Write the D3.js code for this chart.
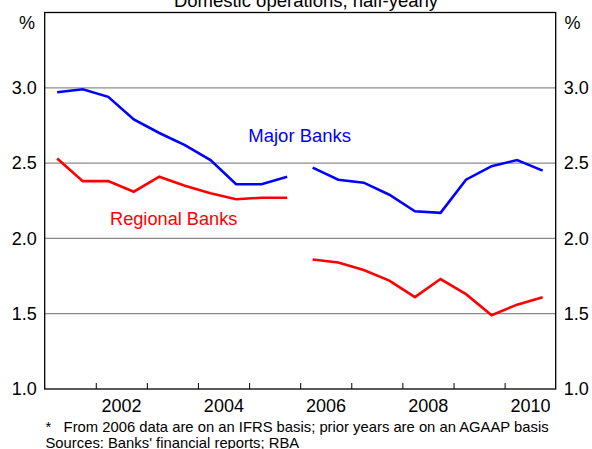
<!DOCTYPE html>
<html>
<head>
<meta charset="utf-8">
<script src="https://cdn.jsdelivr.net/npm/d3@7"></script>
<style>
  html, body { margin: 0; padding: 0; background: #fff; }
  svg { display: block; font-family: "Liberation Sans", Arial, sans-serif; }
</style>
</head>
<body>
<svg id="chart" width="592" height="449"></svg>
<script>
// ---- data ----
const title = "Domestic operations, half-yearly";
const periods1 = ["2001-03","2001-09","2002-03","2002-09","2003-03","2003-09","2004-03","2004-09","2005-03","2005-09"];
const periods2 = ["2006-03","2006-09","2007-03","2007-09","2008-03","2008-09","2009-03","2009-09","2010-03","2010-09"];
const major1    = [2.97, 2.99, 2.94, 2.79, 2.70, 2.62, 2.52, 2.36, 2.36, 2.41];
const regional1 = [2.53, 2.38, 2.38, 2.31, 2.41, 2.35, 2.30, 2.26, 2.27, 2.27];
const major2    = [2.47, 2.39, 2.37, 2.29, 2.18, 2.17, 2.39, 2.48, 2.52, 2.45];
const regional2 = [1.86, 1.84, 1.79, 1.72, 1.61, 1.73, 1.63, 1.49, 1.56, 1.61];
const yTicks = [1.0, 1.5, 2.0, 2.5, 3.0];
const yearTicks = [2002, 2003, 2004, 2005, 2006, 2007, 2008, 2009, 2010];
const yearLabels = [2002, 2004, 2006, 2008, 2010];
const seriesNames = ["Major Banks", "Regional Banks"];
const footnotes = ["*   From 2006 data are on an IFRS basis; prior years are on an AGAAP basis",
                   "Sources: Banks' financial reports; RBA"];

// ---- layout ----
const L = 44.7, R = 555.7, T = 12.5, B = 389;
const svg = d3.select("#chart");
const toDate = p => new Date(+p.slice(0,4), +p.slice(5,7), 0); // end of month

const x = d3.scaleTime().domain([new Date(2001,0,1), new Date(2011,0,1)]).range([L, R]);
const y = d3.scaleLinear().domain([1.0, 3.5]).range([B, T]);

// gridlines
svg.append("g").selectAll("line").data(yTicks.filter(v => v > 1.0)).join("line")
  .attr("x1", L).attr("x2", R)
  .attr("y1", d => y(d)).attr("y2", d => y(d))
  .attr("stroke", "#8c8c8c").attr("stroke-width", 1.3);

// frame
svg.append("rect").attr("x", L).attr("y", T).attr("width", R - L).attr("height", B - T)
  .attr("fill", "none").attr("stroke", "#000").attr("stroke-width", 1.3);

// x ticks (inward)
const xTickAxis = d3.axisBottom(x)
  .tickValues(yearTicks.map(yr => new Date(yr, 0, 1)))
  .tickSize(-6).tickFormat("");
const gxt = svg.append("g").attr("transform", `translate(0,${B})`).call(xTickAxis);
gxt.select(".domain").remove();
gxt.selectAll("line").attr("stroke", "#000").attr("stroke-width", 1);

// x labels (mid-year)
const xLabAxis = d3.axisBottom(x)
  .tickValues(yearLabels.map(yr => new Date(yr, 6, 1)))
  .tickSize(0).tickPadding(0).tickFormat(d => d.getFullYear());
const gxl = svg.append("g").attr("transform", `translate(0,${B})`).call(xLabAxis);
gxl.select(".domain").remove();
gxl.selectAll("text").attr("dy", null).attr("y", 23).attr("font-size", 18)
  .attr("font-family", "Liberation Sans, Arial, sans-serif").attr("fill", "#000");

// y axes
const yLeft = d3.axisLeft(y).tickValues(yTicks).tickSize(0).tickPadding(8).tickFormat(d3.format(".1f"));
const gyl = svg.append("g").attr("transform", `translate(${L},0)`).call(yLeft);
gyl.select(".domain").remove();
gyl.selectAll("text").attr("font-size", 18).attr("font-family", "Liberation Sans, Arial, sans-serif").attr("fill", "#000");

const yRight = d3.axisRight(y).tickValues(yTicks).tickSize(0).tickPadding(8).tickFormat(d3.format(".1f"));
const gyr = svg.append("g").attr("transform", `translate(${R},0)`).call(yRight);
gyr.select(".domain").remove();
gyr.selectAll("text").attr("font-size", 18).attr("font-family", "Liberation Sans, Arial, sans-serif").attr("fill", "#000");

// % units
svg.append("text").attr("x", 27).attr("y", 29).attr("text-anchor", "middle").attr("font-size", 18).text("%");
svg.append("text").attr("x", 572.5).attr("y", 29).attr("text-anchor", "middle").attr("font-size", 18).text("%");

// title (partially cut off at top, as in the reference)
svg.append("text").attr("x", 306).attr("y", 7).attr("text-anchor", "middle").attr("font-size", 18.5).text(title);

// lines
const line = d3.line().x(d => x(d.date)).y(d => y(d.value));
function seg(periods, vals) { return periods.map((p, i) => ({ date: toDate(p), value: vals[i] })); }
const segments = [
  { data: seg(periods1, major1), color: "#0000ff" },
  { data: seg(periods2, major2), color: "#0000ff" },
  { data: seg(periods1, regional1), color: "#ff0000" },
  { data: seg(periods2, regional2), color: "#ff0000" }
];
svg.append("g").selectAll("path").data(segments).join("path")
  .attr("d", d => line(d.data))
  .attr("fill", "none").attr("stroke", d => d.color).attr("stroke-width", 2.6)
  .attr("stroke-linejoin", "miter");

// series labels
svg.append("text").attr("x", 248.3).attr("y", 141.7).attr("font-size", 18.5).attr("fill", "#0000ff").text(seriesNames[0]);
svg.append("text").attr("x", 110).attr("y", 225).attr("font-size", 18.2).attr("fill", "#ff0000").text(seriesNames[1]);

// footnotes
svg.append("text").attr("x", 45.5).attr("y", 431.5).attr("font-size", 14.8)
  .style("white-space", "pre").text(footnotes[0]);
svg.append("text").attr("x", 45.5).attr("y", 448).attr("font-size", 14.8).text(footnotes[1]);
</script>
</body>
</html>
